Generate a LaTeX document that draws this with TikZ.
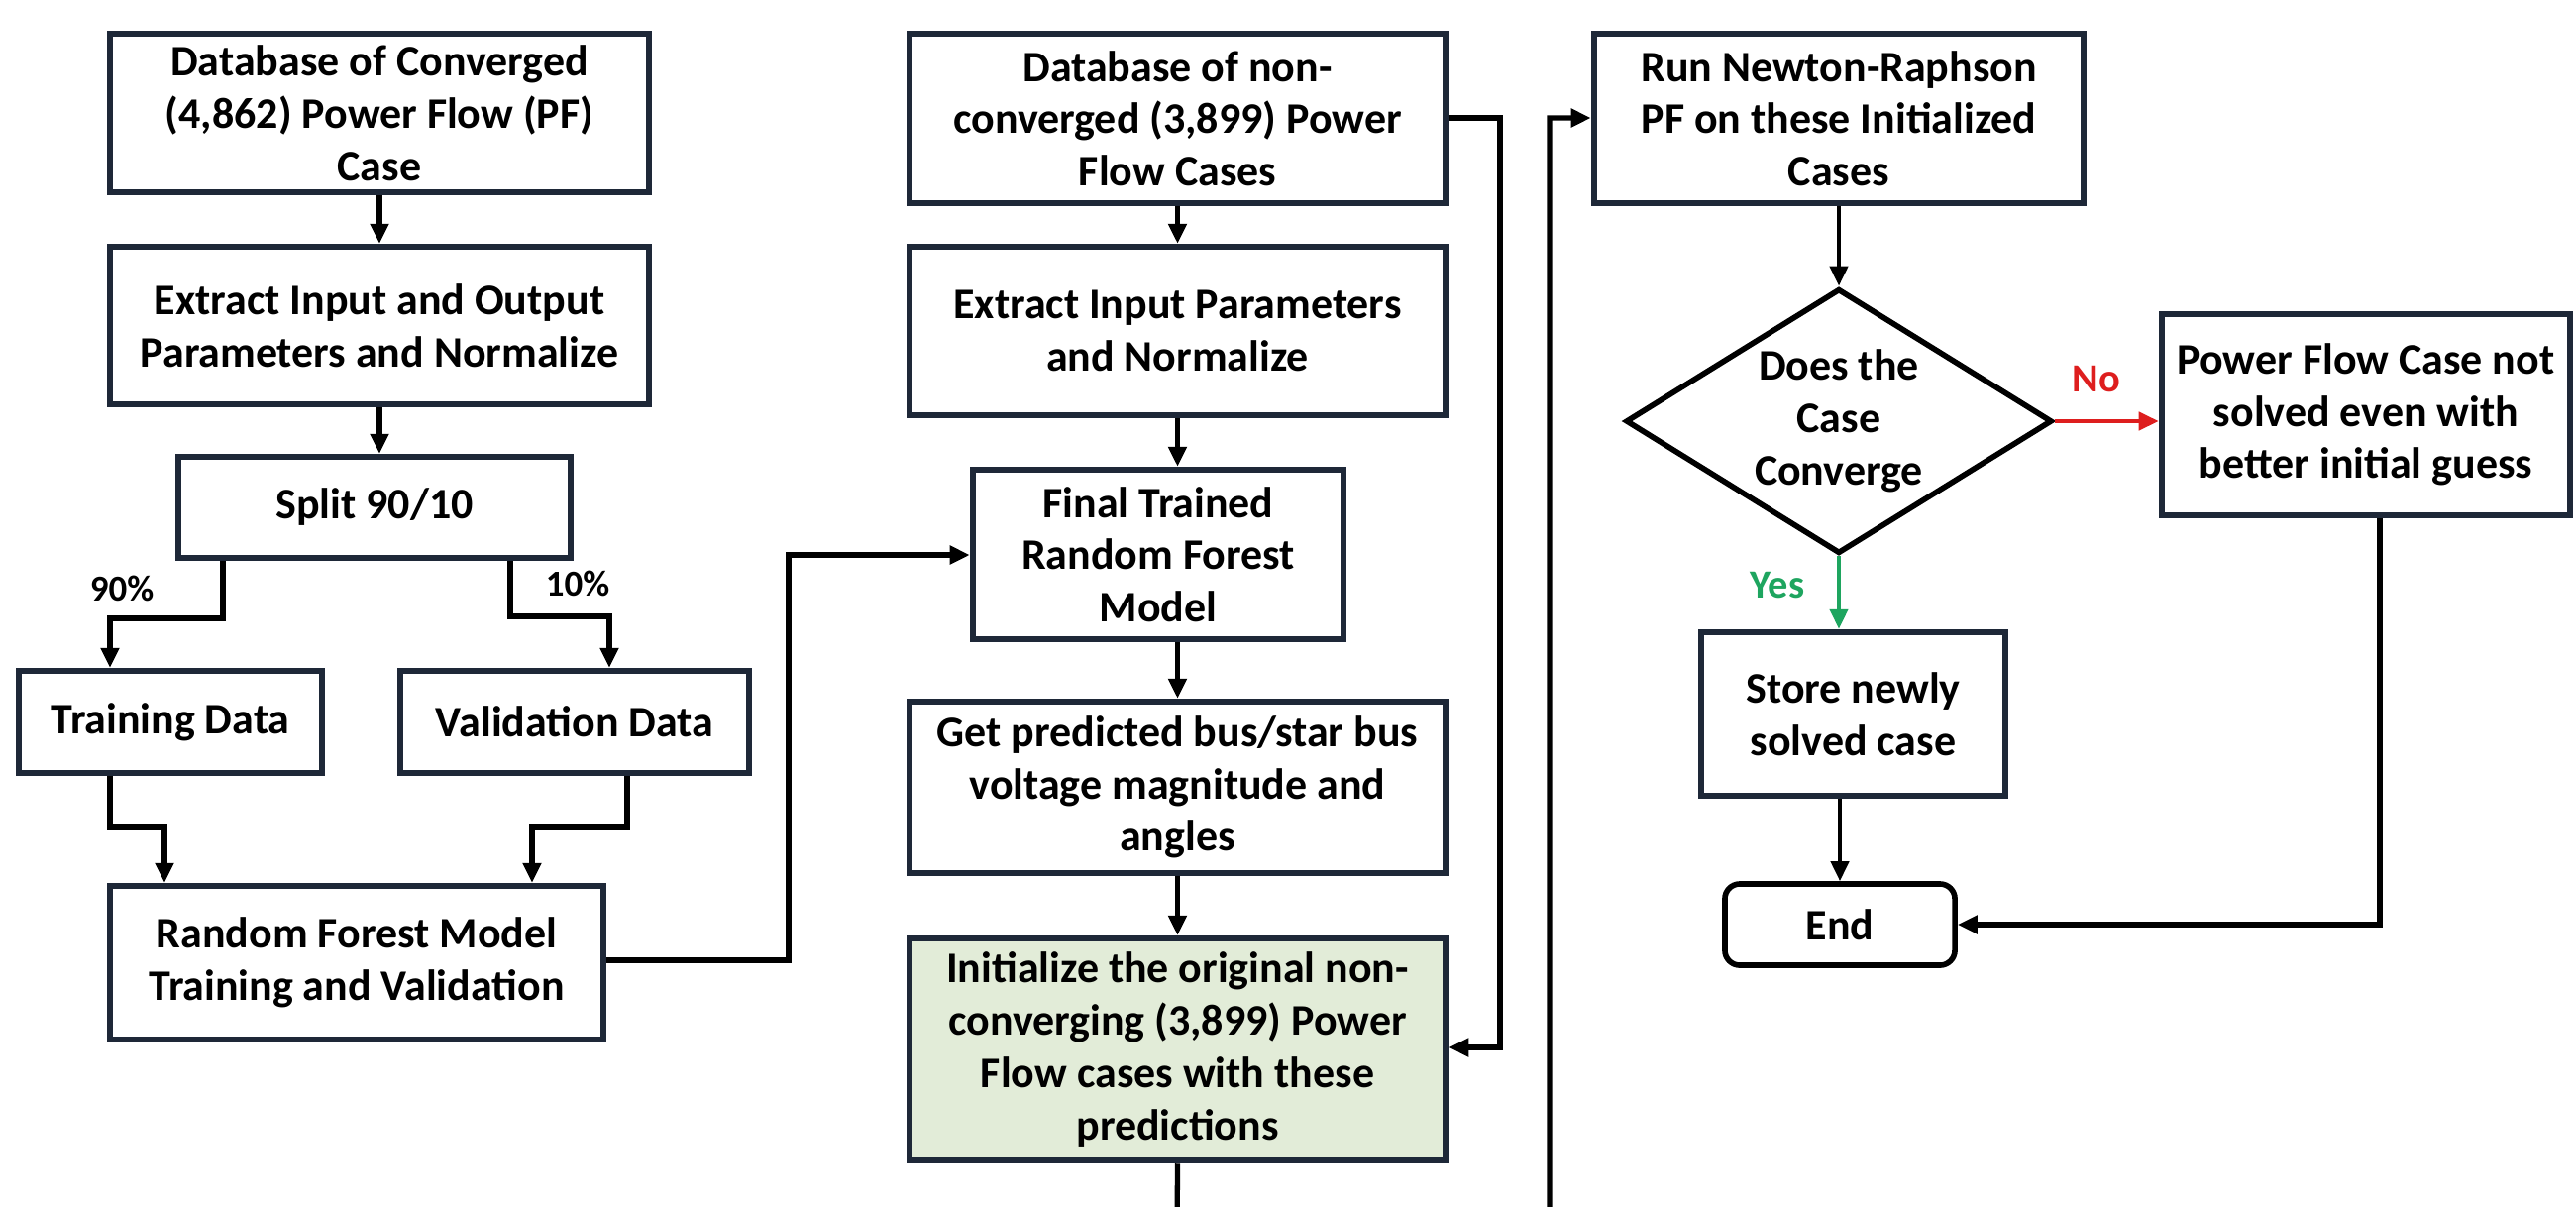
\documentclass[tikz,border=0pt]{standalone}
\usepackage{fontspec}
\setmainfont{Carlito}
\usetikzlibrary{arrows.meta,shapes.geometric}
\definecolor{boxc}{RGB}{30,40,56}
\definecolor{greenfill}{RGB}{226,236,216}
\definecolor{nored}{RGB}{222,30,30}
\definecolor{yesgreen}{RGB}{30,165,95}
\begin{document}
\begin{tikzpicture}[x=0.01cm,y=-0.01cm,
  font=\fontsize{12.5}{15}\selectfont\bfseries,
  proc/.style={draw=boxc,line width=1.8pt,align=center,inner sep=0pt,fill=white},
  dia/.style={diamond,draw=black,line width=1.6pt,minimum width=4.3cm,minimum height=2.67cm,inner sep=0pt,aspect=1.6,align=center,fill=white},
  endbox/.style={draw=black,line width=1.6pt,rounded corners=0.15cm,minimum width=2.32cm,minimum height=0.82cm,inner sep=0pt,fill=white},
  conn/.style={line width=1.5pt,-{Triangle[length=0.2cm,width=0.18cm]}},
  thinconn/.style={line width=1.2pt,-{Triangle[length=0.2cm,width=0.18cm]}},
  lbl/.style={font=\fontsize{10.5}{12}\selectfont\bfseries},
  clbl/.style={font=\fontsize{11.5}{13}\selectfont\bfseries}]
\useasboundingbox (0,0) rectangle (2600,1217);
\fill[white] (0,0) rectangle (2600,1217);
\clip (0,0) rectangle (2600,1217);

% column 1
\node[proc,minimum width=5.44cm,minimum height=1.60cm] (a1) at (383,114) {Database of Converged\\(4,862) Power Flow (PF)\\Case};
\node[proc,minimum width=5.44cm,minimum height=1.59cm] (a2) at (383,328.5) {Extract Input and Output\\Parameters and Normalize};
\node[proc,minimum width=3.96cm,minimum height=1.02cm] (split) at (378,512) {Split 90/10};
\node[proc,minimum width=3.06cm,minimum height=1.03cm] (train) at (172,728.5) {Training Data};
\node[proc,minimum width=3.52cm,minimum height=1.03cm] (valid) at (580,728.5) {Validation Data};
\node[proc,minimum width=4.98cm,minimum height=1.55cm] (rf) at (360,971.5) {Random Forest Model\\Training and Validation};

% column 2
\node[proc,minimum width=5.41cm,minimum height=1.71cm] (b1) at (1188.5,119.5) {Database of non-\\converged (3,899) Power\\Flow Cases};
\node[proc,minimum width=5.41cm,minimum height=1.70cm] (b2) at (1188.5,334) {Extract Input Parameters\\and Normalize};
\node[proc,minimum width=3.74cm,minimum height=1.71cm] (b3) at (1169,559.5) {Final Trained\\Random Forest\\Model};
\node[proc,minimum width=5.41cm,minimum height=1.73cm] (b4) at (1188.5,794.5) {Get predicted bus/star bus\\voltage magnitude and\\angles};
\node[proc,fill=greenfill,minimum width=5.41cm,minimum height=2.24cm] (b5) at (1188.5,1059) {Initialize the original non-\\converging (3,899) Power\\Flow cases with these\\predictions};

% column 3
\node[proc,minimum width=4.94cm,minimum height=1.71cm] (c1) at (1856,119.5) {Run Newton-Raphson\\PF on these Initialized\\Cases};
\node[dia] (dec) at (1856,425) {Does the\\Case\\Converge};
\node[proc,minimum width=4.12cm,minimum height=2.03cm] (c2) at (2388,418.5) {Power Flow Case not\\solved even with\\better initial guess};
\node[proc,minimum width=3.07cm,minimum height=1.65cm] (c3) at (1870.5,720.5) {Store newly\\solved case};
\node[endbox] (end) at (1857,933) {End};

% labels
\node[lbl] (p90) at (123,594) {90\%};
\node[lbl] (p10) at (583,589) {10\%};
\node[clbl,text=nored] (no) at (2116,383) {No};
\node[clbl,text=yesgreen] (yes) at (1794,591) {Yes};

% connectors column 1
\draw[conn] (a1) -- (a2);
\draw[conn] (a2.south) -- (a2.south |- split.north);
\draw[conn] (225,0 |- split.south) -- (225,624) -- (111,624) -- (111,0 |- train.north);
\draw[conn] (515,0 |- split.south) -- (515,622) -- (615,622) -- (615,0 |- valid.north);
\draw[conn] (111,0 |- train.south) -- (111,835) -- (166,835) -- (166,0 |- rf.north);
\draw[conn] (633,0 |- valid.south) -- (633,835) -- (537,835) -- (537,0 |- rf.north);
\draw[conn] (rf.east |- 0,969) -- (796,969) -- (796,560) -- (b3.west |- 0,560);

% connectors column 2
\draw[conn] (b1) -- (b2);
\draw[conn] (b2.south) -- (b2.south |- b3.north);
\draw[conn] (b4.north |- b3.south) -- (b4.north);
\draw[conn] (b4) -- (b5);
\draw[conn] (b1.east |- 0,119) -- (1514,119) -- (1514,1057) -- (b5.east |- 0,1057);
\draw[conn] (b5.south) -- (1188,1260) -- (1564,1260) -- (1564,119) -- (c1.west |- 0,119);

% connectors column 3
\draw[thinconn] (c1) -- (dec);
\draw[thinconn,draw=nored,fill=nored] (dec.east) -- (c2.west |- dec.east);
\draw[thinconn,draw=yesgreen,fill=yesgreen] (dec.south) -- (dec.south |- c3.north);
\draw[thinconn] (end.north |- c3.south) -- (end.north);
\draw[conn] (2402,0 |- c2.south) -- (2402,933) -- (end.east);
\end{tikzpicture}
\end{document}
